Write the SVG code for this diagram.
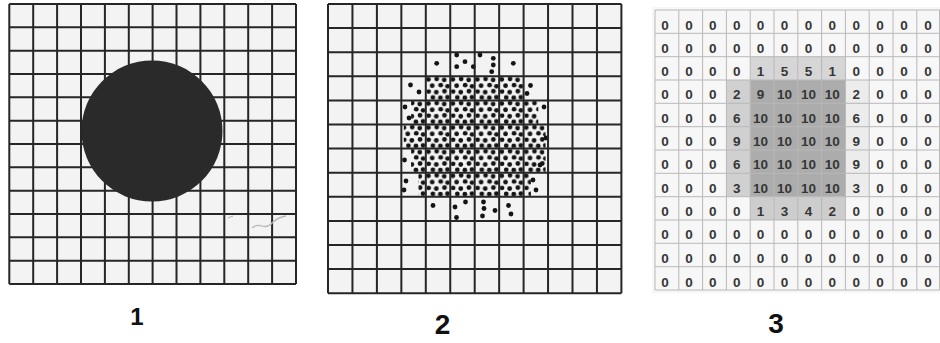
<svg xmlns="http://www.w3.org/2000/svg" width="940" height="343" viewBox="0 0 940 343">
<style>
.bg{fill:#f3f3f3}
.grid{fill:none;stroke:#262626;stroke-width:2}
.grid3{fill:none;stroke:#b8b8b8;stroke-width:1}
.dot{fill:#141414}
.n{font-family:"Liberation Sans",Arial,sans-serif;font-size:13.5px;font-weight:bold;fill:#363636;text-anchor:middle}
.lbl{font-family:"Liberation Sans",Arial,sans-serif;font-weight:bold;fill:#111;text-anchor:middle}
</style>
<defs>
<pattern id="dots" patternUnits="userSpaceOnUse" x="401.35" y="76.3" width="24.45" height="24.1">
<circle class="dot" cx="2.6" cy="3.2" r="2.4"/><circle class="dot" cx="10.9" cy="2.7" r="2.4"/><circle class="dot" cx="18.4" cy="3.6" r="2.4"/>
<circle class="dot" cx="6.4" cy="9.4" r="2.4"/><circle class="dot" cx="14.9" cy="8.8" r="2.4"/><circle class="dot" cx="21.8" cy="10.0" r="2.4"/>
<circle class="dot" cx="2.9" cy="15.3" r="2.4"/><circle class="dot" cx="10.5" cy="15.9" r="2.4"/><circle class="dot" cx="18.7" cy="14.9" r="2.4"/>
<circle class="dot" cx="7.1" cy="21.2" r="2.4"/><circle class="dot" cx="14.6" cy="21.5" r="2.4"/><circle class="dot" cx="21.7" cy="20.9" r="2.4"/>
</pattern>
</defs>
<rect width="940" height="343" fill="#ffffff"/>

<g id="panel1">
<rect class="bg" x="9.3" y="4" width="286.7" height="280"/>
<path class="grid" d="M9.3,4V284M33.2,4V284M57.1,4V284M81,4V284M104.9,4V284M128.8,4V284M152.6,4V284M176.5,4V284M200.4,4V284M224.3,4V284M248.2,4V284M272.1,4V284M296,4V284M9.3,4H296M9.3,27.3H296M9.3,50.7H296M9.3,74H296M9.3,97.3H296M9.3,120.7H296M9.3,144H296M9.3,167.3H296M9.3,190.7H296M9.3,214H296M9.3,237.3H296M9.3,260.7H296M9.3,284H296"/>
<circle cx="152" cy="131" r="70.5" fill="#2a2a2a"/>
<path d="M252,228q5,-4 10,-2q6,2 11,-4q6,-5 13,-6M228,218l5,-2" fill="none" stroke="#b8b8b8" stroke-width="1.3"/>
</g>

<g id="panel2">
<rect class="bg" x="328" y="4" width="293.4" height="289.2"/>
<g id="dotfield">
<rect x="425.8" y="76.3" width="97.8" height="120.5" fill="url(#dots)"/>
<rect x="411.1" y="100.4" width="14.7" height="24.1" fill="url(#dots)"/>
<rect x="403.8" y="124.5" width="22" height="24.1" fill="url(#dots)"/>
<rect x="411.1" y="148.6" width="14.7" height="24.1" fill="url(#dots)"/>
<rect x="418.5" y="172.7" width="7.3" height="24.1" fill="url(#dots)"/>
<rect x="523.6" y="100.4" width="14.7" height="24.1" fill="url(#dots)"/>
<rect x="523.6" y="124.5" width="22" height="24.1" fill="url(#dots)"/>
<rect x="523.6" y="148.6" width="22" height="24.1" fill="url(#dots)"/>
<rect x="523.6" y="172.7" width="7.3" height="24.1" fill="url(#dots)"/>
<circle class="dot" cx="436.7" cy="63.3" r="2.4"/><circle class="dot" cx="456.7" cy="55" r="2.4"/><circle class="dot" cx="456.7" cy="66.7" r="2.4"/><circle class="dot" cx="465" cy="61.7" r="2.4"/><circle class="dot" cx="473.3" cy="66.7" r="2.4"/><circle class="dot" cx="480" cy="55" r="2.4"/><circle class="dot" cx="493.3" cy="58.3" r="2.4"/><circle class="dot" cx="493.3" cy="65" r="2.4"/><circle class="dot" cx="491.7" cy="71.7" r="2.4"/><circle class="dot" cx="513.3" cy="63.3" r="2.4"/>
<circle class="dot" cx="410.5" cy="85" r="2.4"/><circle class="dot" cx="419" cy="92" r="2.4"/><circle class="dot" cx="530.5" cy="85.5" r="2.4"/><circle class="dot" cx="527" cy="93.5" r="2.4"/>
<circle class="dot" cx="433" cy="205.5" r="2.4"/><circle class="dot" cx="455" cy="207" r="2.4"/><circle class="dot" cx="456.5" cy="217.5" r="2.4"/><circle class="dot" cx="465.5" cy="202" r="2.4"/><circle class="dot" cx="483.5" cy="202" r="2.4"/><circle class="dot" cx="484" cy="208.5" r="2.4"/><circle class="dot" cx="482.5" cy="216" r="2.4"/><circle class="dot" cx="495" cy="210.5" r="2.4"/><circle class="dot" cx="508.5" cy="205.5" r="2.4"/><circle class="dot" cx="511" cy="214" r="2.4"/>
<circle class="dot" cx="405" cy="107" r="2.4"/><circle class="dot" cx="404.5" cy="160" r="2.4"/><circle class="dot" cx="406" cy="181" r="2.4"/><circle class="dot" cx="404" cy="190" r="2.4"/><circle class="dot" cx="409" cy="118" r="2.4"/>
<circle class="dot" cx="544" cy="107" r="2.4"/><circle class="dot" cx="540" cy="165" r="2.4"/><circle class="dot" cx="533" cy="180" r="2.4"/><circle class="dot" cx="536" cy="190" r="2.4"/><circle class="dot" cx="546" cy="138" r="2.4"/>
</g>
<path class="grid" d="M328,4V293.2M352.45,4V293.2M376.9,4V293.2M401.35,4V293.2M425.8,4V293.2M450.25,4V293.2M474.7,4V293.2M499.15,4V293.2M523.6,4V293.2M548.05,4V293.2M572.5,4V293.2M596.95,4V293.2M621.4,4V293.2M328,4H621.4M328,28.1H621.4M328,52.2H621.4M328,76.3H621.4M328,100.4H621.4M328,124.5H621.4M328,148.6H621.4M328,172.7H621.4M328,196.8H621.4M328,220.9H621.4M328,245H621.4M328,269.1H621.4M328,293.2H621.4"/>
</g>

<g id="panel3">
<rect x="652" y="7" width="288" height="286" fill="#f7f7f7"/>
<rect x="750.2" y="56.7" width="95.2" height="23.3" fill="#d6d6d6"/>
<rect x="726.4" y="80" width="23.8" height="116.7" fill="#d0d0d0"/>
<rect x="845.4" y="80" width="23.8" height="116.7" fill="#ececec"/>
<rect x="750.2" y="196.7" width="95.2" height="23.3" fill="#cdcdcd"/>
<rect x="750.2" y="80" width="95.2" height="116.7" fill="#acacac"/>
<path class="grid3" d="M655,10V290M678.8,10V290M702.6,10V290M726.4,10V290M750.2,10V290M774,10V290M797.8,10V290M821.6,10V290M845.4,10V290M869.2,10V290M893,10V290M916.8,10V290M939.5,10V290M655,10H940M655,33.3H940M655,56.7H940M655,80H940M655,103.3H940M655,126.7H940M655,150H940M655,173.3H940M655,196.7H940M655,220H940M655,243.3H940M655,266.7H940M655,290H940"/>
<g id="values">
<text class="n" x="665" y="29.5">0</text><text class="n" x="688.9" y="29.5">0</text><text class="n" x="712.8" y="29.5">0</text><text class="n" x="736.7" y="29.5">0</text><text class="n" x="760.6" y="29.5">0</text><text class="n" x="784.5" y="29.5">0</text><text class="n" x="808.4" y="29.5">0</text><text class="n" x="832.3" y="29.5">0</text><text class="n" x="856.2" y="29.5">0</text><text class="n" x="880.1" y="29.5">0</text><text class="n" x="904" y="29.5">0</text><text class="n" x="927.9" y="29.5">0</text>
<text class="n" x="665" y="52.8">0</text><text class="n" x="688.9" y="52.8">0</text><text class="n" x="712.8" y="52.8">0</text><text class="n" x="736.7" y="52.8">0</text><text class="n" x="760.6" y="52.8">0</text><text class="n" x="784.5" y="52.8">0</text><text class="n" x="808.4" y="52.8">0</text><text class="n" x="832.3" y="52.8">0</text><text class="n" x="856.2" y="52.8">0</text><text class="n" x="880.1" y="52.8">0</text><text class="n" x="904" y="52.8">0</text><text class="n" x="927.9" y="52.8">0</text>
<text class="n" x="665" y="76.1">0</text><text class="n" x="688.9" y="76.1">0</text><text class="n" x="712.8" y="76.1">0</text><text class="n" x="736.7" y="76.1">0</text><text class="n" x="760.6" y="76.1">1</text><text class="n" x="784.5" y="76.1">5</text><text class="n" x="808.4" y="76.1">5</text><text class="n" x="832.3" y="76.1">1</text><text class="n" x="856.2" y="76.1">0</text><text class="n" x="880.1" y="76.1">0</text><text class="n" x="904" y="76.1">0</text><text class="n" x="927.9" y="76.1">0</text>
<text class="n" x="665" y="99.4">0</text><text class="n" x="688.9" y="99.4">0</text><text class="n" x="712.8" y="99.4">0</text><text class="n" x="736.7" y="99.4">2</text><text class="n" x="760.6" y="99.4">9</text><text class="n" x="784.5" y="99.4">10</text><text class="n" x="808.4" y="99.4">10</text><text class="n" x="832.3" y="99.4">10</text><text class="n" x="856.2" y="99.4">2</text><text class="n" x="880.1" y="99.4">0</text><text class="n" x="904" y="99.4">0</text><text class="n" x="927.9" y="99.4">0</text>
<text class="n" x="665" y="122.7">0</text><text class="n" x="688.9" y="122.7">0</text><text class="n" x="712.8" y="122.7">0</text><text class="n" x="736.7" y="122.7">6</text><text class="n" x="760.6" y="122.7">10</text><text class="n" x="784.5" y="122.7">10</text><text class="n" x="808.4" y="122.7">10</text><text class="n" x="832.3" y="122.7">10</text><text class="n" x="856.2" y="122.7">6</text><text class="n" x="880.1" y="122.7">0</text><text class="n" x="904" y="122.7">0</text><text class="n" x="927.9" y="122.7">0</text>
<text class="n" x="665" y="146">0</text><text class="n" x="688.9" y="146">0</text><text class="n" x="712.8" y="146">0</text><text class="n" x="736.7" y="146">9</text><text class="n" x="760.6" y="146">10</text><text class="n" x="784.5" y="146">10</text><text class="n" x="808.4" y="146">10</text><text class="n" x="832.3" y="146">10</text><text class="n" x="856.2" y="146">9</text><text class="n" x="880.1" y="146">0</text><text class="n" x="904" y="146">0</text><text class="n" x="927.9" y="146">0</text>
<text class="n" x="665" y="169.3">0</text><text class="n" x="688.9" y="169.3">0</text><text class="n" x="712.8" y="169.3">0</text><text class="n" x="736.7" y="169.3">6</text><text class="n" x="760.6" y="169.3">10</text><text class="n" x="784.5" y="169.3">10</text><text class="n" x="808.4" y="169.3">10</text><text class="n" x="832.3" y="169.3">10</text><text class="n" x="856.2" y="169.3">9</text><text class="n" x="880.1" y="169.3">0</text><text class="n" x="904" y="169.3">0</text><text class="n" x="927.9" y="169.3">0</text>
<text class="n" x="665" y="192.6">0</text><text class="n" x="688.9" y="192.6">0</text><text class="n" x="712.8" y="192.6">0</text><text class="n" x="736.7" y="192.6">3</text><text class="n" x="760.6" y="192.6">10</text><text class="n" x="784.5" y="192.6">10</text><text class="n" x="808.4" y="192.6">10</text><text class="n" x="832.3" y="192.6">10</text><text class="n" x="856.2" y="192.6">3</text><text class="n" x="880.1" y="192.6">0</text><text class="n" x="904" y="192.6">0</text><text class="n" x="927.9" y="192.6">0</text>
<text class="n" x="665" y="215.9">0</text><text class="n" x="688.9" y="215.9">0</text><text class="n" x="712.8" y="215.9">0</text><text class="n" x="736.7" y="215.9">0</text><text class="n" x="760.6" y="215.9">1</text><text class="n" x="784.5" y="215.9">3</text><text class="n" x="808.4" y="215.9">4</text><text class="n" x="832.3" y="215.9">2</text><text class="n" x="856.2" y="215.9">0</text><text class="n" x="880.1" y="215.9">0</text><text class="n" x="904" y="215.9">0</text><text class="n" x="927.9" y="215.9">0</text>
<text class="n" x="665" y="239.2">0</text><text class="n" x="688.9" y="239.2">0</text><text class="n" x="712.8" y="239.2">0</text><text class="n" x="736.7" y="239.2">0</text><text class="n" x="760.6" y="239.2">0</text><text class="n" x="784.5" y="239.2">0</text><text class="n" x="808.4" y="239.2">0</text><text class="n" x="832.3" y="239.2">0</text><text class="n" x="856.2" y="239.2">0</text><text class="n" x="880.1" y="239.2">0</text><text class="n" x="904" y="239.2">0</text><text class="n" x="927.9" y="239.2">0</text>
<text class="n" x="665" y="262.5">0</text><text class="n" x="688.9" y="262.5">0</text><text class="n" x="712.8" y="262.5">0</text><text class="n" x="736.7" y="262.5">0</text><text class="n" x="760.6" y="262.5">0</text><text class="n" x="784.5" y="262.5">0</text><text class="n" x="808.4" y="262.5">0</text><text class="n" x="832.3" y="262.5">0</text><text class="n" x="856.2" y="262.5">0</text><text class="n" x="880.1" y="262.5">0</text><text class="n" x="904" y="262.5">0</text><text class="n" x="927.9" y="262.5">0</text>
<text class="n" x="665" y="286.5">0</text><text class="n" x="688.9" y="286.5">0</text><text class="n" x="712.8" y="286.5">0</text><text class="n" x="736.7" y="286.5">0</text><text class="n" x="760.6" y="286.5">0</text><text class="n" x="784.5" y="286.5">0</text><text class="n" x="808.4" y="286.5">0</text><text class="n" x="832.3" y="286.5">0</text><text class="n" x="856.2" y="286.5">0</text><text class="n" x="880.1" y="286.5">0</text><text class="n" x="904" y="286.5">0</text><text class="n" x="927.9" y="286.5">0</text>
</g>
</g>

<g id="labels">
<text class="lbl" x="137" y="325" font-size="24">1</text>
<text class="lbl" x="442.5" y="334" font-size="28">2</text>
<text class="lbl" x="776" y="333" font-size="28">3</text>
</g>
</svg>
